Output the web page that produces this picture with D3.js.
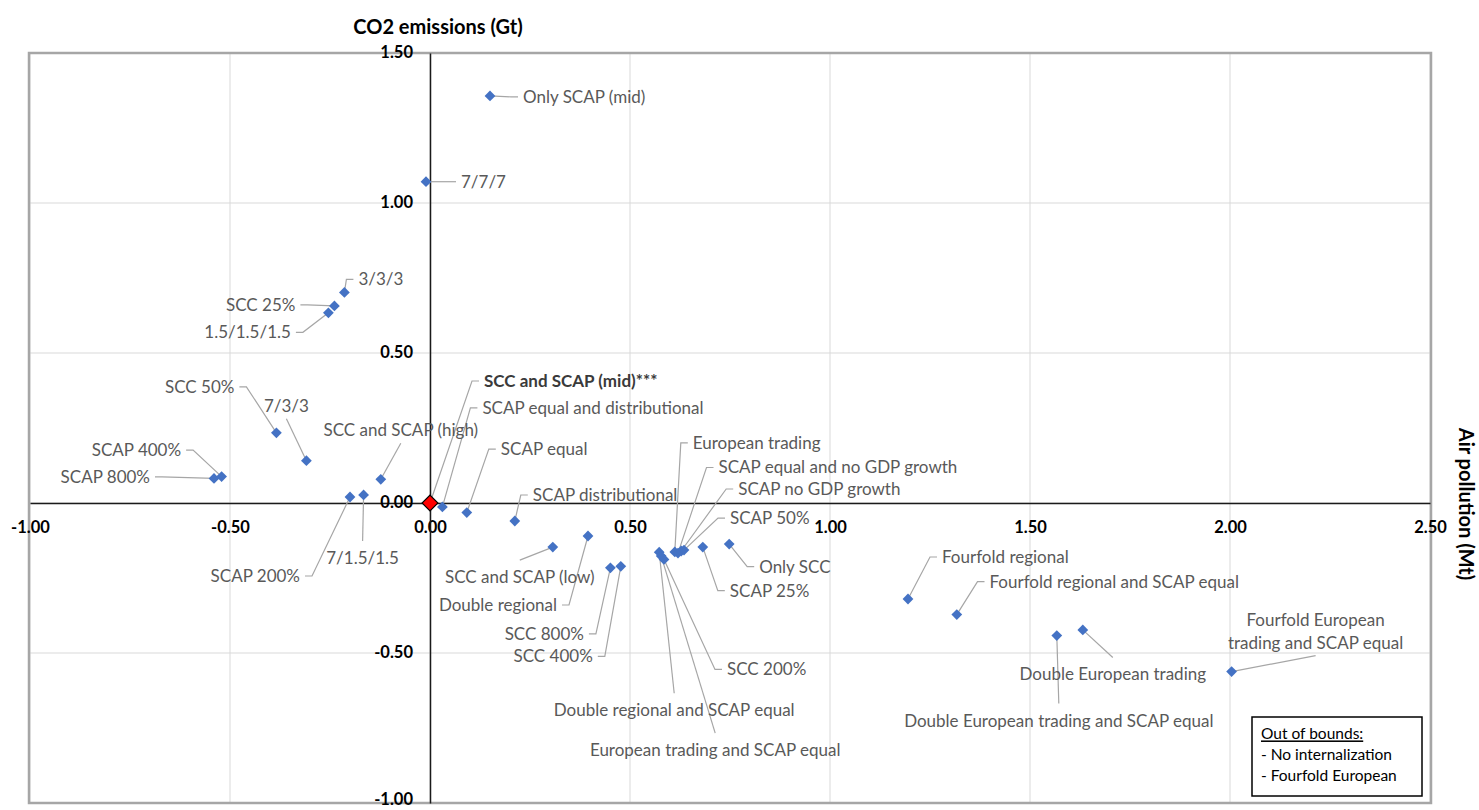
<!DOCTYPE html>
<html><head><meta charset="utf-8">
<script src="https://cdn.jsdelivr.net/npm/d3@7"></script>
<style>body{margin:0;background:#fff;} svg{display:block;}</style>
</head><body>
<svg id="chart" width="1479" height="810"></svg>
<script>
// ---------- data ----------
const scenarios = [
  "Only SCAP (mid)", "7/7/7", "3/3/3", "SCC 25%", "1.5/1.5/1.5", "SCC 50%", "7/3/3",
  "SCC and SCAP (high)", "SCAP 400%", "SCAP 800%", "SCAP 200%", "7/1.5/1.5",
  "SCC and SCAP (mid)***", "SCAP equal and distributional", "SCAP equal", "SCAP distributional",
  "SCC and SCAP (low)", "Double regional", "SCC 800%", "SCC 400%",
  "Double regional and SCAP equal", "European trading and SCAP equal", "SCC 200%",
  "European trading", "SCAP equal and no GDP growth", "SCAP no GDP growth", "SCAP 50%",
  "SCAP 25%", "Only SCC", "Fourfold regional", "Fourfold regional and SCAP equal",
  "Double European trading and SCAP equal", "Double European trading",
  "Fourfold European trading and SCAP equal"
];
// Air pollution (Mt) – horizontal axis
const airPollution = [
  0.150, -0.010, -0.214, -0.239, -0.254, -0.384, -0.309,
  -0.123, -0.521, -0.540, -0.200, -0.166,
  0.000, 0.031, 0.092, 0.212,
  0.307, 0.395, 0.451, 0.477,
  0.573, 0.578, 0.585,
  0.612, 0.620, 0.628, 0.635,
  0.682, 0.748, 1.195, 1.317,
  1.567, 1.632,
  2.004
];
// CO2 emissions (Gt) – vertical axis
const co2Emissions = [
  1.357, 1.071, 0.702, 0.657, 0.634, 0.234, 0.141,
  0.079, 0.088, 0.082, 0.020, 0.027,
  0.000, -0.013, -0.032, -0.060,
  -0.147, -0.110, -0.216, -0.211,
  -0.164, -0.177, -0.188,
  -0.163, -0.167, -0.160, -0.157,
  -0.147, -0.137, -0.320, -0.372,
  -0.442, -0.423,
  -0.562
];
const referenceScenario = "SCC and SCAP (mid)***";
const xTicks = [-1.0, -0.5, 0.0, 0.5, 1.0, 1.5, 2.0, 2.5];
const yTicks = [-1.0, -0.5, 0.0, 0.5, 1.0, 1.5];
const xTitle = "Air pollution (Mt)";
const yTitle = "CO2 emissions (Gt)";
const legendLines = ["Out of bounds:", "- No internalization", "- Fourfold European"];

// ---------- label layout (pixel offsets from the marker) ----------
const labelSide = [
  "start","start","start","end","end","end","above",
  "above","end","end","end","below",
  "start","start","start","start",
  "below","end","end","end",
  "below","below","start",
  "start","start","start","start",
  "start","start","start","start",
  "below","below",
  "above"
];
const labelDx = [33,35,14,-39,-37.5,-42,-20, 20,-40.5,-64,-50,-1, 54,40,34,18, -33,-31,-26.5,-28, 15,54,63, 18,40.5,57,46, 27,30,34,32.7, 2,30, 84];
const labelDy = [1,0,-13,-1,19.5,-46,-55, -49,-26.5,-1.5,79,63, -122,-99,-63.5,-26, 30,69,66,90, 158,194,110, -109,-85.6,-62,-32, 43.6,22.6,-42,-33, 85,44.6, -29];
const labelWrap = {"Fourfold European trading and SCAP equal": ["Fourfold European", "trading and SCAP equal"]};

// ---------- drawing ----------
const svg = d3.select("#chart");
const x = d3.scaleLinear().domain([-1, 2.5]).range([30, 1430]);
const y = d3.scaleLinear().domain([-1, 1.5]).range([803, 53]);
const fmt = d => d.toFixed(2);
const FONT = "Lato, 'Open Sans', sans-serif";

// gridlines
svg.append("g").selectAll("line").data(xTicks).join("line")
  .attr("x1", d => x(d)).attr("x2", d => x(d))
  .attr("y1", y(1.5)).attr("y2", y(-1))
  .attr("stroke", "#d9d9d9").attr("stroke-width", 1);
svg.append("g").selectAll("line").data(yTicks).join("line")
  .attr("y1", d => y(d)).attr("y2", d => y(d))
  .attr("x1", x(-1)).attr("x2", x(2.5))
  .attr("stroke", "#d9d9d9").attr("stroke-width", 1);

// plot border
svg.append("rect")
  .attr("x", x(-1) - 1).attr("y", y(1.5))
  .attr("width", x(2.5) - x(-1) + 2).attr("height", y(-1) - y(1.5))
  .attr("fill", "none").attr("stroke", "#a6a6a6").attr("stroke-width", 2.5);

// axes
const xAxis = svg.append("g").attr("transform", `translate(0,${y(0)})`)
  .call(d3.axisBottom(x).tickValues(xTicks).tickFormat(fmt).tickSizeInner(0).tickSizeOuter(0).tickPadding(18));
const yAxis = svg.append("g").attr("transform", `translate(${x(0)},0)`)
  .call(d3.axisLeft(y).tickValues(yTicks).tickFormat(fmt).tickSizeInner(0).tickSizeOuter(0).tickPadding(17));
[xAxis, yAxis].forEach(g => {
  g.select(".domain").attr("stroke", "#1a1a1a").attr("stroke-width", 1.5);
  g.selectAll("text").attr("font-family", FONT).attr("font-weight", "bold")
    .attr("font-size", "16.5px").attr("fill", "#000");
});
yAxis.selectAll(".tick text").attr("dy", d => d === -1 ? "0.12em" : "0.3em");

// axis titles
svg.append("text").attr("x", 438).attr("y", 27).attr("dy", "0.35em")
  .attr("text-anchor", "middle").attr("font-family", FONT).attr("font-weight", "bold")
  .attr("font-size", "20px").attr("fill", "#000").text(yTitle);
svg.append("text").attr("transform", "translate(1466,504) rotate(90)").attr("dy", "0.35em")
  .attr("text-anchor", "middle").attr("font-family", FONT).attr("font-weight", "bold")
  .attr("font-size", "20px").attr("fill", "#000").text(xTitle);

// data rows
const rows = scenarios.map((name, i) => ({
  name, ax: airPollution[i], co2: co2Emissions[i],
  side: labelSide[i], dx: labelDx[i], dy: labelDy[i]
}));

// leader lines
const leaderPts = d => {
  const px = x(d.ax), py = y(d.co2), tx = px + d.dx, ty = py + d.dy;
  if (d.side === "start") return [[px, py], [tx - 12, ty], [tx - 5, ty]];
  if (d.side === "end") return [[px, py], [tx + 12, ty], [tx + 5, ty]];
  if (d.side === "below") return [[px, py], [tx, ty - 17]];
  return [[px, py], [tx, ty + 13]];
};
svg.append("g").selectAll("path").data(rows).join("path")
  .attr("d", d => d3.line()(leaderPts(d)))
  .attr("fill", "none").attr("stroke", "#a6a6a6").attr("stroke-width", 1.2);

// markers
const sym = d3.symbol().type(d3.symbolSquare);
svg.append("g").selectAll("path").data(rows).join("path")
  .attr("transform", d => `translate(${x(d.ax)},${y(d.co2)}) rotate(45)`)
  .attr("d", d => sym.size(d.name === referenceScenario ? 125 : 58)())
  .attr("fill", d => d.name === referenceScenario ? "#ff0000" : "#4472c4")
  .attr("stroke", d => d.name === referenceScenario ? "#000" : "none")
  .attr("stroke-width", 1.2);

// labels
const lab = svg.append("g").selectAll("text").data(rows).join("text")
  .attr("x", d => x(d.ax) + d.dx)
  .attr("y", d => y(d.co2) + d.dy)
  .attr("text-anchor", d => d.side === "start" ? "start" : d.side === "end" ? "end" : "middle")
  .attr("font-family", FONT).attr("font-size", "17px")
  .attr("font-weight", d => d.name === referenceScenario ? "bold" : "normal")
  .attr("fill", d => d.name === referenceScenario ? "#3a3a3a" : "#595959");
lab.each(function(d) {
  const t = d3.select(this);
  const lines = labelWrap[d.name] || [d.name];
  if (lines.length > 1) t.attr("y", y(d.co2) + d.dy - 22.6 * (lines.length - 1));
  lines.forEach((ln, k) => {
    t.append("tspan").attr("x", x(d.ax) + d.dx)
      .attr("dy", k === 0 ? "0.35em" : "22.6px")
      .text(ln);
  });
});

// legend box
const lg = svg.append("g");
lg.append("rect").attr("x", 1252).attr("y", 717).attr("width", 170).attr("height", 79)
  .attr("fill", "#fff").attr("stroke", "#000").attr("stroke-width", 1.5);
lg.selectAll("text").data(legendLines).join("text")
  .attr("x", 1261).attr("y", (d, i) => 734 + i * 21).attr("dy", "0.35em")
  .attr("font-family", FONT).attr("font-size", "15.5px").attr("fill", "#000")
  .attr("text-decoration", (d, i) => i === 0 ? "underline" : null)
  .text(d => d);
</script>
</body></html>
